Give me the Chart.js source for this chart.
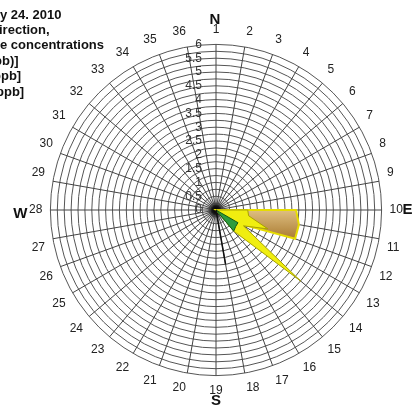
<!DOCTYPE html>
<html>
<head>
<meta charset="utf-8">
<script src="https://cdn.jsdelivr.net/npm/chart.js@4.4.1/dist/chart.umd.min.js"></script>
<style>
    html, body { margin: 0; padding: 0; background: #fff; }
    #wrap { position: relative; width: 413px; height: 408px; }
</style>
</head>
<body>
<div id="wrap"><canvas id="rose"></canvas></div>
<script>

// 36 wind sectors, 10 degrees each, sector 1 = north
const sectors = ['1', '2', '3', '4', '5', '6', '7', '8', '9', '10', '11', '12',
    '13', '14', '15', '16', '17', '18', '19', '20', '21', '22', '23', '24',
    '25', '26', '27', '28', '29', '30', '31', '32', '33', '34', '35', '36'];

// radial tick labels, printed left of the north axis
const radialTicks = [0, 0.5, 1, 1.5, 2, 2.5, 3, 3.5, 4, 4.5, 5, 5.5, 6];

// compass letters, one per quarter
const compass = ['N', 'E', 'S', 'W'];

// header lines (left part runs off the canvas)
const headerLines = ['y 24. 2010', 'irection,', 'e concentrations', 'pb)]', 'ppb]', 'ppb]'];
const headerShift = [0, -1, 0, -6, -7, -4];

// values per sector
const windLine = [0, 0, 0, 0, 0, 0, 0, 0, 0, 0, 0, 0, 0, 0, 0, 0, 0, 2.0,
    0, 0, 0, 0, 0, 0, 0, 0, 0, 0, 0, 0, 0, 0, 0, 0, 0, 0];
const greenValues = [0, 0, 0, 0, 0, 0, 0, 0, 0, 0, 0, 0, 0.92, 0.93, 1.0, 0, 0, 0,
    0, 0, 0, 0, 0, 0, 0, 0, 0, 0, 0, 0, 0, 0, 0, 0, 0, 0];
const yellowValues = [0, 0, 0, 0, 0, 0, 0, 0, 0, 1.15, 1.2, 2.0, 1.15, 4.0, 1.0, 0, 0, 0,
    0, 0, 0, 0, 0, 0, 0, 0, 0, 0, 0, 0, 0, 0, 0, 0, 0, 0];
const brownValues = [0, 0, 0, 0, 0, 0, 0, 0, 0, 2.9, 3.05, 3.05, 1.0, 1.0, 0, 0, 0, 0,
    0, 0, 0, 0, 0, 0, 0, 0, 0, 0, 0, 0, 0, 0, 0, 0, 0, 0];

const FONT = "'Liberation Sans', Arial, sans-serif";

function brownFill(context) {
    const chart = context.chart;
    const r = chart.scales.r;
    if (!r || r.yCenter === undefined) return '#c9a05a';
    const g = chart.ctx.createLinearGradient(0, r.yCenter - 2, 0, r.yCenter + 30);
    g.addColorStop(0, '#e2c488');
    g.addColorStop(1, '#a8782e');
    return g;
}

// dark hub where all the spokes meet
const hub = {
    id: 'hub',
    beforeDatasetsDraw(chart) {
        const ctx = chart.ctx;
        const r = chart.scales.r;
        const g = ctx.createRadialGradient(r.xCenter, r.yCenter, 0, r.xCenter, r.yCenter, 14);
        g.addColorStop(0, 'rgba(0,0,0,1)');
        g.addColorStop(0.3, 'rgba(15,15,15,0.9)');
        g.addColorStop(0.6, 'rgba(90,90,90,0.4)');
        g.addColorStop(1, 'rgba(150,150,150,0)');
        ctx.save();
        ctx.fillStyle = g;
        ctx.beginPath();
        ctx.arc(r.xCenter, r.yCenter, 14, 0, Math.PI * 2);
        ctx.fill();
        ctx.restore();
    }
};

// tick numbers, compass letters and header text
const roseText = {
    id: 'roseText',
    afterDraw(chart) {
        const ctx = chart.ctx;
        const r = chart.scales.r;
        const cx = r.xCenter, cy = r.yCenter, R = r.drawingArea;
        ctx.save();

        ctx.fillStyle = '#333';
        ctx.font = '12px ' + FONT;
        ctx.textAlign = 'right';
        ctx.textBaseline = 'middle';
        radialTicks.forEach(v => {
            const d = r.getDistanceFromCenterForValue(v);
            ctx.fillText(String(v), cx - 14, cy - d);
        });

        ctx.fillStyle = '#111';
        ctx.font = 'bold 15px ' + FONT;
        ctx.textAlign = 'center';
        ctx.fillText(compass[0], cx - 1, cy - R - 25);
        ctx.fillText(compass[2], cx, cy + R + 25);
        ctx.textAlign = 'left';
        ctx.fillText(compass[1], cx + R + 21, cy);
        ctx.textAlign = 'right';
        ctx.fillText(compass[3], cx - R - 23, cy + 4);

        ctx.font = 'bold 13px ' + FONT;
        ctx.textAlign = 'left';
        headerLines.forEach((t, i) => {
            ctx.fillText(t, headerShift[i], 15 + i * 15.4);
        });
        ctx.restore();
    }
};

const ctx = document.getElementById('rose').getContext('2d');
new Chart(ctx, {
    type: 'radar',
    data: {
        labels: sectors,
        datasets: [
            {
                label: 'wind',
                data: windLine,
                borderColor: '#111',
                borderWidth: 1.5,
                fill: false
            },
            {
                label: 'green',
                data: greenValues,
                borderColor: '#145a14',
                borderWidth: 1,
                backgroundColor: '#2e9b3e',
                fill: true
            },
            {
                label: 'yellow',
                data: yellowValues,
                borderColor: '#a8a200',
                borderWidth: 1,
                backgroundColor: '#f0ee10',
                fill: true
            },
            {
                label: 'brown',
                data: brownValues,
                borderColor: '#e6dc00',
                borderWidth: 2,
                backgroundColor: brownFill,
                fill: true
            }
        ]
    },
    options: {
        responsive: true,
        maintainAspectRatio: false,
        animation: false,
        layout: { padding: { top: 22, bottom: 10, left: 28, right: 9 } },
        elements: {
            point: { radius: 0, hoverRadius: 0 },
            line: { tension: 0, borderJoinStyle: 'miter' }
        },
        plugins: {
            legend: { display: false },
            tooltip: { enabled: false }
        },
        scales: {
            r: {
                min: 0,
                max: 6,
                startAngle: 0,
                ticks: { stepSize: 0.25, display: false },
                grid: { circular: true, color: '#555', lineWidth: 1 },
                angleLines: { color: '#444', lineWidth: 1 },
                pointLabels: {
                    color: '#222',
                    padding: 8,
                    font: { family: FONT, size: 12 }
                }
            }
        }
    },
    plugins: [hub, roseText]
});
</script>
</body>
</html>
